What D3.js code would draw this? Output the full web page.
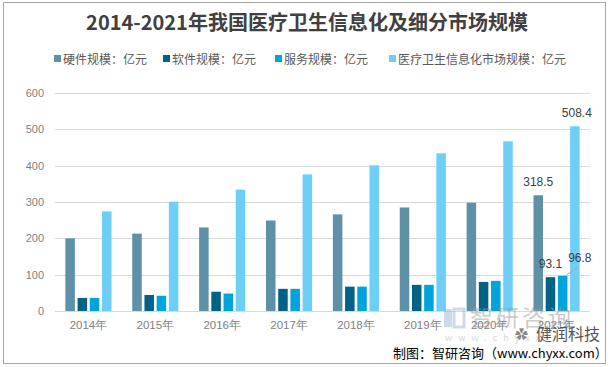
<!DOCTYPE html>
<html><head><meta charset="utf-8">
<script src="https://cdn.jsdelivr.net/npm/d3@7"></script>
<style>body{margin:0;background:#fff;}svg{display:block;font-family:"Noto Sans CJK SC","Microsoft YaHei",sans-serif;}</style>
</head><body><svg id="c" width="613" height="367"></svg>
<script>
const years = ["2014年","2015年","2016年","2017年","2018年","2019年","2020年","2021年"];
const seriesNames = ["硬件规模：亿元","软件规模：亿元","服务规模：亿元","医疗卫生信息化市场规模：亿元"];
const hardware = [200, 213, 230, 249, 266, 285, 298, 318.5];
const software = [36, 44, 53, 61, 67, 72, 80, 93.1];
const service = [36, 42, 48, 61, 67, 72, 83, 96.8];
const total = [274, 301, 334, 376, 401, 434, 467, 508.4];
const yTicks = [0, 100, 200, 300, 400, 500, 600];
const colors = ["#5E91A8", "#006386", "#00A3DC", "#6DCFF6"];
const seriesData = [hardware, software, service, total];

const svg = d3.select("#c");
svg.append("rect").attr("x",3.5).attr("y",2.5).attr("width",602).attr("height",361)
  .attr("fill","#fff").attr("stroke","#a6a6a6").attr("stroke-width",1);

svg.append("text").attr("x",307).attr("y",30).attr("text-anchor","middle")
  .attr("font-size",20).attr("font-weight","bold").attr("fill","#404040")
  .text("2014-2021年我国医疗卫生信息化及细分市场规模");

// legend
const legX = [54, 163, 275, 389];
seriesNames.forEach((n,i)=>{
  const g = svg.append("g").attr("transform",`translate(${legX[i]},59)`);
  g.append("rect").attr("x",0).attr("y",-4).attr("width",7).attr("height",7).attr("fill",colors[i]);
  g.append("text").attr("x",9).attr("y",4.5).attr("font-size",12).attr("fill","#595959").text(n);
});

const x0 = d3.scaleBand().domain(years).range([55,590]).paddingInner(0.31).paddingOuter(0.155);
const x1 = d3.scaleBand().domain(d3.range(4)).range([0,x0.bandwidth()]).paddingInner(0.22);
const y = d3.scaleLinear().domain([0,600]).range([311,93]);

// gridlines
svg.append("g").selectAll("line").data(yTicks).join("line")
  .attr("x1",55).attr("x2",590).attr("y1",d=>Math.round(y(d))+0.5).attr("y2",d=>Math.round(y(d))+0.5)
  .attr("stroke","#d9d9d9").attr("stroke-width",1);

// y labels
const yAxis = svg.append("g").attr("transform","translate(55,0)")
  .call(d3.axisLeft(y).tickValues(yTicks).tickSize(0).tickPadding(11));
yAxis.select(".domain").remove();
yAxis.selectAll("text").attr("font-size",11).attr("fill","#808080").attr("font-family","'Liberation Sans',Arial,sans-serif");

// x labels
const xAxis = svg.append("g").attr("transform","translate(0,311)")
  .call(d3.axisBottom(x0).tickSize(0).tickPadding(10));
xAxis.select(".domain").remove();
xAxis.selectAll("text").attr("font-size",11.5).attr("fill","#808080");

// bars
seriesData.forEach((arr,si)=>{
  svg.append("g").selectAll("rect").data(arr).join("rect")
    .attr("x",(d,i)=>x0(years[i])+x1(si))
    .attr("width",x1.bandwidth())
    .attr("y",d=>y(d)).attr("height",d=>y(0)-y(d))
    .attr("fill",colors[si]);
});

// data labels for 2021
const last = years.length-1;
const lblStyle = s=>s.attr("font-size",12).attr("fill","#404040").attr("text-anchor","middle").attr("font-family","'Liberation Sans',Arial,sans-serif");
const cx = si => x0(years[last])+x1(si)+x1.bandwidth()/2;
svg.append("text").attr("x",cx(0)).attr("y",y(hardware[last])-9).text(hardware[last]).call(lblStyle);
svg.append("text").attr("x",cx(1)).attr("y",y(software[last])-9).text(software[last]).call(lblStyle);
svg.append("text").attr("x",cx(3)+2).attr("y",y(total[last])-9).text(total[last]).call(lblStyle);
svg.append("text").attr("x",cx(3)+5).attr("y",y(service[last])-14).text(service[last]).call(lblStyle);
svg.append("line").attr("x1",cx(2)+4).attr("y1",y(service[last])-1).attr("x2",cx(3)+4).attr("y2",y(service[last])-9)
  .attr("stroke","#a6a6a6").attr("stroke-width",1);

// watermarks
const wm = svg.append("g").attr("opacity",0.5);
wm.append("rect").attr("x",444).attr("y",309).attr("width",8).attr("height",18).attr("fill","#9fb7d6");
wm.append("rect").attr("x",454).attr("y",309).attr("width",10).attr("height",18).attr("fill","none").attr("stroke","#9fb7d6").attr("stroke-width",3);
wm.append("text").attr("x",470).attr("y",326).attr("font-size",23).attr("fill","#9a9a9a").attr("letter-spacing",3).text("智研咨询");
wm.append("text").attr("x",445).attr("y",341).attr("font-size",9).attr("fill","#b0b0b0").attr("letter-spacing",6).text("www.chyxx");
svg.append("text").attr("x",536).attr("y",340).attr("font-size",16).attr("fill","#555").text("健润科技");
svg.append("text").attr("x",515).attr("y",339).attr("font-size",13).attr("fill","#888").text("✿");

svg.append("text").attr("x",393).attr("y",358).attr("font-size",13).attr("fill","#000")
  .text("制图：智研咨询（www.chyxx.com）");
</script></body></html>
